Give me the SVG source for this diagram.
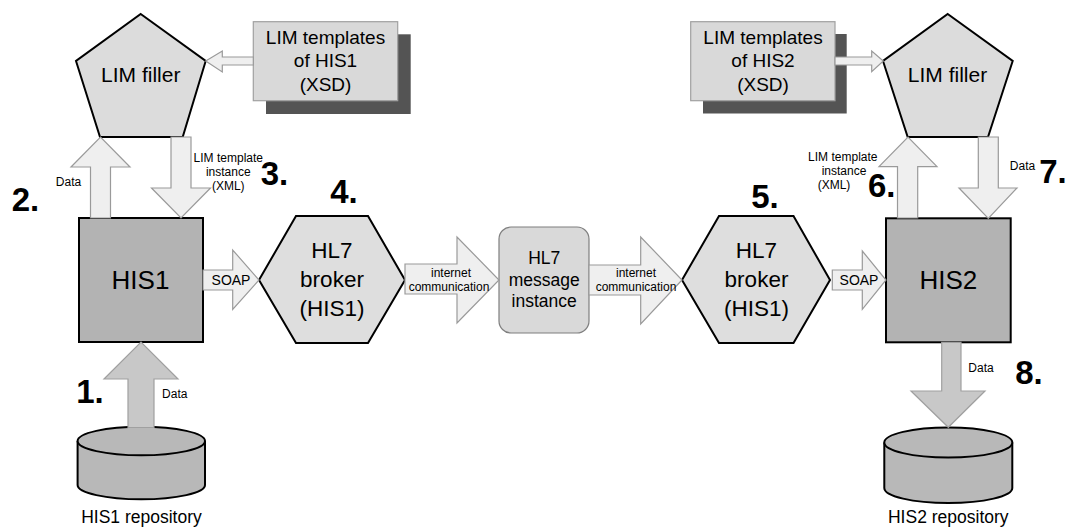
<svg xmlns="http://www.w3.org/2000/svg" width="1070" height="527" viewBox="0 0 1070 527">
<style>
text{font-family:"Liberation Sans",Arial,sans-serif;fill:#000;text-anchor:middle}
.his{fill:#b3b3b3;stroke:#000;stroke-width:2}
.pent{fill:#dcdcdc;stroke:#000;stroke-width:2}
.hex{fill:#dedede;stroke:#000;stroke-width:2}
.msg{fill:#d9d9d9;stroke:#7f7f7f;stroke-width:1.2}
.tpl{fill:#d9d9d9;stroke:#a0a0a0;stroke-width:1.2}
.shadow{fill:#545454}
.cyl{fill:#b8b8b8;stroke:#000;stroke-width:2}
.la{fill:#efefef;stroke:#9a9a9a;stroke-width:1.2}
.da{fill:#c8c8c8;stroke:#a0a0a0;stroke-width:1.2}
.num{font-weight:bold;font-size:33px}
.sm{font-size:12px}
.big{font-size:26px}
.hx{font-size:22.5px}
.t19{font-size:19px}
.t21{font-size:21px}
.t17{font-size:17.5px}
.lab{font-size:17.5px}
</style>
<rect width="1070" height="527" fill="#fff"/>

<g id="lim-templates-his1">
<rect class="shadow" x="266" y="34.3" width="144.7" height="79.7"/>
<rect class="tpl" x="253.3" y="21.7" width="144.4" height="79"/>
<text class="t19" x="325.5" y="43.5">LIM templates</text>
<text class="t19" x="325.5" y="67">of HIS1</text>
<text class="t19" x="325.5" y="90.5">(XSD)</text>
</g>

<g id="lim-templates-his2">
<rect class="shadow" x="703" y="34" width="143.7" height="79.5"/>
<rect class="tpl" x="690.7" y="21.7" width="144.3" height="79"/>
<text class="t19" x="763" y="43.5">LIM templates</text>
<text class="t19" x="763" y="67">of HIS2</text>
<text class="t19" x="763" y="90.5">(XSD)</text>
</g>

<g id="lim-filler-1">
<polygon class="pent" points="140.7,14 205.7,61 182.7,137 100,137 76,61"/>
<text class="t21" x="140.8" y="82">LIM filler</text>
</g>

<g id="lim-filler-2">
<polygon class="pent" points="947.7,14 1012.7,61 988,137 907.7,137 883,61"/>
<text class="t21" x="947.5" y="82">LIM filler</text>
</g>

<g id="his1">
<rect class="his" x="79" y="218" width="124" height="124"/>
<text class="big" x="140.5" y="288.5">HIS1</text>
</g>

<g id="his2">
<rect class="his" x="886" y="218.3" width="124.7" height="124"/>
<text class="big" x="948.3" y="288.5">HIS2</text>
</g>

<g id="hl7-broker-1">
<polygon class="hex" points="259,280 296,216 368,216 405,280 368,343 296,343"/>
<text class="hx" x="332" y="258.3">HL7</text>
<text class="hx" x="332" y="286.8">broker</text>
<text class="hx" x="332" y="315.5">(HIS1)</text>
</g>

<g id="hl7-message-instance">
<rect class="msg" x="499" y="227" width="90" height="106" rx="12" ry="12"/>
<text class="t17" x="544.2" y="264">HL7</text>
<text class="t17" x="544.2" y="285.5">message</text>
<text class="t17" x="544.2" y="306.7">instance</text>
</g>

<g id="hl7-broker-2">
<polygon class="hex" points="682,280 719,216 793.5,216 830,280 793.5,343 719,343"/>
<text class="hx" x="756.5" y="258.3">HL7</text>
<text class="hx" x="756.5" y="286.8">broker</text>
<text class="hx" x="756.5" y="315.5">(HIS1)</text>
</g>

<g id="his1-repository">
<path class="cyl" d="M77.6,441 V485 A63.7,14.3 0 0 0 205,485 V441"/>
<ellipse class="cyl" cx="141.3" cy="441" rx="63.7" ry="14.3"/>
<text class="lab" x="141.5" y="522.5">HIS1 repository</text>
</g>

<g id="his2-repository">
<path class="cyl" d="M884.3,442.5 V488 A64,15 0 0 0 1012.3,488 V442.5"/>
<ellipse class="cyl" cx="948.3" cy="442.5" rx="64" ry="15"/>
<text class="lab" x="948.3" y="522.5">HIS2 repository</text>
</g>

<g id="connectors">
<polygon class="la" points="253.3,57 222.3,57 222.3,51 205.7,61 222.3,72 222.3,65 253.3,65"/>
<polygon class="la" points="835,57 871.7,57 871.7,51 883.3,61 871.7,71.7 871.7,65 835,65"/>
<polygon class="la" points="90.5,218 90.5,167 71,167 100.5,137 130,167 110.5,167 110.5,218"/>
<polygon class="la" points="171,137 191,137 191,188 210.5,188 181,218 151.5,188 171,188"/>
<polygon class="la" points="897.5,218 897.5,166.7 879,166.7 908,137 937,166.7 917.7,166.7 917.7,218"/>
<polygon class="la" points="978.3,137 998.3,137 998.3,188 1017,188 988.3,218.3 959,188 978.3,188"/>
<polygon class="la" points="203,270 232.7,270 232.7,250 259,280 232.7,309.5 232.7,290 203,290"/>
<polygon class="la" points="405,264 457,264 457,237 499,280 457,323 457,294 405,294"/>
<polygon class="la" points="589,265 640.7,265 640.7,237 682,280 640.7,324 640.7,295 589,295"/>
<polygon class="la" points="832.3,270 862.3,270 862.3,251 886,280 862.3,309.3 862.3,290 832.3,290"/>
<polygon class="da" points="128,427.5 128,379 104,379 141,342 178,379 154,379 154,427.5"/>
<polygon class="da" points="941.7,342.3 961,342.3 961,391 985,391 948.3,427.3 911,391 941.7,391"/>

<text class="sm" x="68.5" y="186">Data</text>
<text class="sm" x="228.3" y="161.5">LIM template</text>
<text class="sm" x="228.3" y="175.5">instance</text>
<text class="sm" x="228.3" y="189.5">(XML)</text>
<text class="sm" x="842.8" y="161">LIM template</text>
<text class="sm" x="844" y="175">instance</text>
<text class="sm" x="834" y="189">(XML)</text>
<text class="sm" x="1022.5" y="170">Data</text>
<text class="sm" x="174.8" y="398.3">Data</text>
<text class="sm" x="981" y="372">Data</text>
<text style="font-size:14px" x="231" y="284.5">SOAP</text>
<text style="font-size:14px" x="859" y="284.5">SOAP</text>
<text class="sm" x="451" y="276.5">internet</text>
<text class="sm" x="449" y="290.5">communication</text>
<text class="sm" x="636" y="276.5">internet</text>
<text class="sm" x="636" y="290.5">communication</text>
</g>

<g id="step-numbers">
<text class="num" x="25.5" y="210.7">2.</text>
<text class="num" x="274.5" y="185">3.</text>
<text class="num" x="344" y="203.3">4.</text>
<text class="num" x="765" y="208.3">5.</text>
<text class="num" x="881.7" y="196.7">6.</text>
<text class="num" x="1053" y="183.3">7.</text>
<text class="num" x="90" y="402.7">1.</text>
<text class="num" x="1029" y="384.3">8.</text>
</g>
</svg>
